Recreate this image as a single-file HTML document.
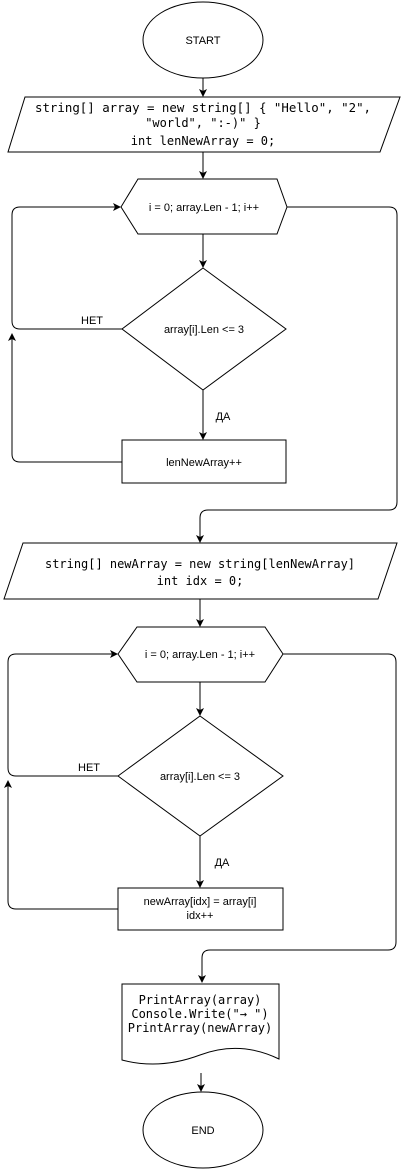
<!DOCTYPE html>
<html><head><meta charset="utf-8"><style>
html,body{margin:0;padding:0;background:#fff;}
svg{display:block}
.s{font-family:"Liberation Sans",sans-serif;font-size:11px;fill:#000}
.m{font-family:"DejaVu Sans Mono","Liberation Mono",monospace;font-size:12px;fill:#000}
</style></head><body>
<svg width="405" height="1171" viewBox="0 0 405 1171" xmlns="http://www.w3.org/2000/svg">
<defs><marker id="a" markerWidth="8" markerHeight="8" refX="7" refY="4" orient="auto" markerUnits="userSpaceOnUse"><path d="M0,0 L8,4 L0,8 L2,4 z" fill="#000"/></marker></defs>
<g fill="none" stroke="#000" stroke-width="1">
<ellipse cx="203" cy="40" rx="60" ry="38" fill="#fff"/>
<line x1="203" y1="78" x2="203" y2="96" marker-end="url(#a)"/>
<polygon points="25,97 400,97 380,152 8,152" fill="#fff"/>
<line x1="203" y1="152" x2="203" y2="178" marker-end="url(#a)"/>
<polygon points="121,207 138,179 277,179 287,207 277,234 138,234" fill="#fff"/>
<line x1="203" y1="234" x2="203" y2="267" marker-end="url(#a)"/>
<polygon points="203,268 286,329 203,390 122,329" fill="#fff"/>
<line x1="203" y1="390" x2="203" y2="439" marker-end="url(#a)"/>
<rect x="122" y="440" width="164" height="43" fill="#fff"/>
<path d="M122,329 H20 Q12,329 12,321 V215 Q12,207 20,207 H120" marker-end="url(#a)"/>
<path d="M122,462 H20 Q12,462 12,454 V334" marker-end="url(#a)"/>
<path d="M287,207 H389 Q397,207 397,215 V502 Q397,510 389,510 H208 Q200,510 200,518 V542" marker-end="url(#a)"/>
<polygon points="23,543 397,543 378,599 4,599" fill="#fff"/>
<line x1="200" y1="599" x2="200" y2="626" marker-end="url(#a)"/>
<polygon points="118,654 137,627 265,627 283,654 265,682 137,682" fill="#fff"/>
<line x1="200" y1="682" x2="200" y2="715" marker-end="url(#a)"/>
<polygon points="200,716 283,776 200,836 118,776" fill="#fff"/>
<line x1="200" y1="836" x2="200" y2="887" marker-end="url(#a)"/>
<rect x="118" y="888" width="165" height="42" fill="#fff"/>
<path d="M118,776 H16 Q8,776 8,768 V662 Q8,654 16,654 H117" marker-end="url(#a)"/>
<path d="M118,909 H16 Q8,909 8,901 V781" marker-end="url(#a)"/>
<path d="M283,654 H388 Q396,654 396,662 V942 Q396,950 388,950 H210 Q202,950 202,958 V982" marker-end="url(#a)"/>
<path d="M122,984 H279 V1059 Q240,1040 200,1055 Q160,1070 122,1060 Z" fill="#fff"/>
<line x1="201" y1="1073" x2="201" y2="1091" marker-end="url(#a)"/>
<ellipse cx="203" cy="1130" rx="60" ry="38" fill="#fff"/>
</g>
<text class="s" x="203" y="44" text-anchor="middle">START</text>
<text class="m" x="203" y="112" text-anchor="middle" textLength="336" lengthAdjust="spacingAndGlyphs">string[] array = new string[] { "Hello", "2",</text>
<text class="m" x="203" y="127" text-anchor="middle">"world", ":-)" }</text>
<text class="m" x="203" y="145" text-anchor="middle">int lenNewArray = 0;</text>
<text class="s" x="204" y="211" text-anchor="middle">i = 0; array.Len - 1; i++</text>
<text class="s" x="204" y="333" text-anchor="middle">array[i].Len &lt;= 3</text>
<text class="s" x="92" y="324" text-anchor="middle">НЕТ</text>
<text class="s" x="223" y="420" text-anchor="middle">ДА</text>
<text class="s" x="204" y="466" text-anchor="middle">lenNewArray++</text>
<text class="m" x="200" y="568" text-anchor="middle" textLength="310" lengthAdjust="spacingAndGlyphs">string[] newArray = new string[lenNewArray]</text>
<text class="m" x="200" y="585" text-anchor="middle">int idx = 0;</text>
<text class="s" x="200" y="658" text-anchor="middle">i = 0; array.Len - 1; i++</text>
<text class="s" x="200" y="780" text-anchor="middle">array[i].Len &lt;= 3</text>
<text class="s" x="89" y="771" text-anchor="middle">НЕТ</text>
<text class="s" x="222" y="866" text-anchor="middle">ДА</text>
<text class="s" x="200" y="905" text-anchor="middle">newArray[idx] = array[i]</text>
<text class="s" x="200" y="919" text-anchor="middle">idx++</text>
<text class="m" x="200" y="1004" text-anchor="middle">PrintArray(array)</text>
<text class="m" x="200" y="1018" text-anchor="middle">Console.Write("→ ")</text>
<text class="m" x="200" y="1032" text-anchor="middle">PrintArray(newArray)</text>
<text class="s" x="203" y="1134" text-anchor="middle">END</text>
</svg>
</body></html>
